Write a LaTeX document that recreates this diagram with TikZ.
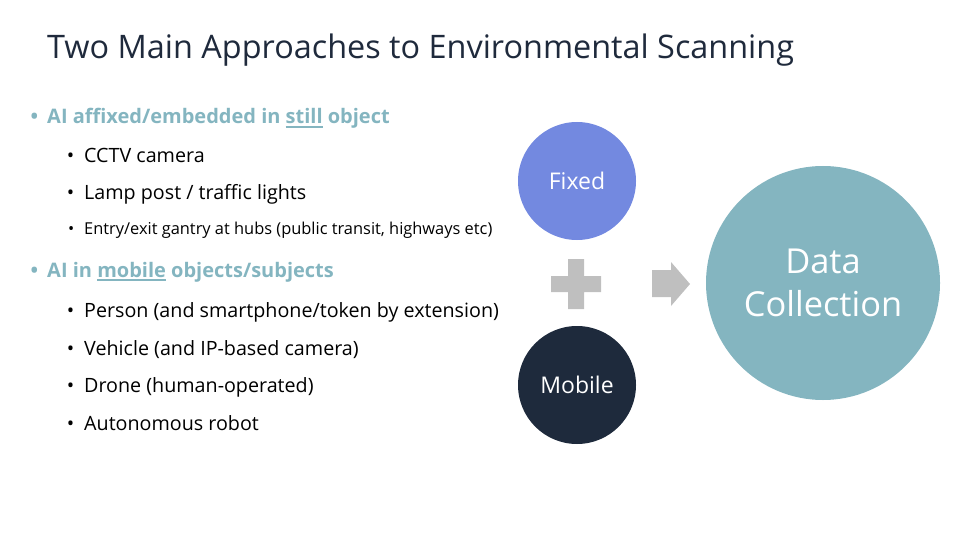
\documentclass[tikz,border=0pt]{standalone}
\usepackage{fontspec}
\setmainfont{Open Sans}
\usepackage{xcolor}

\definecolor{titlenavy}{RGB}{31,42,60}
\definecolor{fixedblue}{RGB}{115,137,224}
\definecolor{mobilenavy}{RGB}{30,42,60}
\definecolor{datateal}{RGB}{132,181,192}
\definecolor{plusgray}{RGB}{191,191,191}

\newcommand{\keyword}[1]{\setbox0\hbox{#1}\rlap{\raisebox{-4pt}{\rule{\wd0}{2pt}}}\box0{}}

\tikzset{
    heading/.style={anchor=base west, inner sep=0pt, text=datateal, font=\bfseries\fontsize{20}{24}\selectfont},
    item/.style={anchor=base west, inner sep=0pt, text=black, font=\fontsize{19.7}{24}\selectfont},
    smallitem/.style={item, font=\fontsize{16.4}{19}\selectfont},
    blob/.style={circle, inner sep=0pt, text=white, minimum size=118pt, font=\fontsize{23}{27}\selectfont},
}

\begin{document}
\begin{tikzpicture}[x=1pt, y=-1pt]
    \useasboundingbox (0,0) rectangle (960,540);

    \node[anchor=base west, inner sep=0pt, text=titlenavy, font=\fontsize{32.4}{38}\selectfont] (title) at (47,59) {Two Main Approaches to Environmental Scanning};

    \node[heading] (still) at (47,124) {\llap{\textbullet\hspace{9pt}}AI affixed/embedded in \keyword{still} object};
    \node[item] (cctv) at (84,163) {\llap{\textbullet\hspace{10pt}}CCTV camera};
    \node[item] (lamp) at (84,200) {\llap{\textbullet\hspace{10pt}}Lamp post / traffic lights};
    \node[smallitem] (gantry) at (84,234) {\llap{\textbullet\hspace{10pt}}Entry/exit gantry at hubs (public transit, highways etc)};
    \node[heading] (mobile) at (47,277) {\llap{\textbullet\hspace{9pt}}AI in \keyword{mobile} objects/subjects};
    \node[item] (person) at (84,317) {\llap{\textbullet\hspace{10pt}}Person (and smartphone/token by extension)};
    \node[item] (vehicle) at (84,355) {\llap{\textbullet\hspace{10pt}}Vehicle (and IP-based camera)};
    \node[item] (drone) at (84,392) {\llap{\textbullet\hspace{10pt}}Drone (human-operated)};
    \node[item] (robot) at (84,430) {\llap{\textbullet\hspace{10pt}}Autonomous robot};

    \node[blob, fill=fixedblue] (fixed) at (577,181) {Fixed};
    \node[blob, fill=mobilenavy] (mob) at (577,385) {Mobile};
    \node[blob, fill=datateal, minimum size=234pt, align=center, font=\fontsize{34.4}{43}\selectfont] (data) at (823,283) {Data\\Collection};

    \fill[plusgray] (551,276) rectangle (601,292) (568,259) rectangle (584,309);
    \fill[plusgray] (652,270) -- (671,270) -- (671,262) -- (690,284) -- (671,306) -- (671,297) -- (652,297) -- cycle;
\end{tikzpicture}
\end{document}
